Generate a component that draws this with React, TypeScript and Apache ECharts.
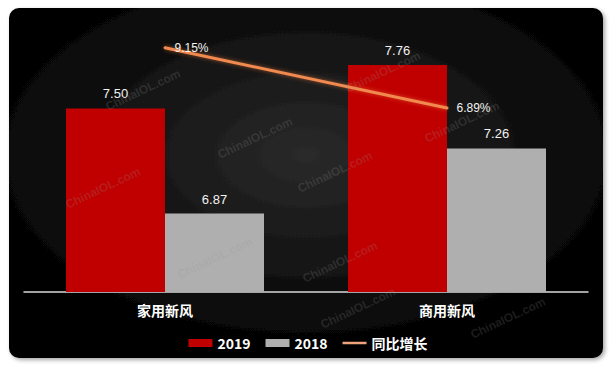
import React, { useEffect, useRef } from "react";
import * as echarts from "echarts";

const categories = ["家用新风", "商用新风"];
const values2019 = [7.5, 7.76];
const values2018 = [6.87, 7.26];
const growth = [9.15, 6.89];
const watermarkText = "ChinaIOL.com";
const watermarkSpots = [
  [143, 90], [255, 138], [335, 172], [383, 72], [462, 122],
  [340, 262], [358, 308], [508, 318], [103, 188], [215, 258],
];

export default function App() {
  const ref = useRef<HTMLDivElement>(null);
  useEffect(() => {
    if (!ref.current) return;
    const chart = echarts.init(ref.current, null, { renderer: "svg" });
    const font = "'Liberation Sans', Arial, sans-serif";
    const cjk = "'Noto Sans CJK SC', sans-serif";
    const watermarks = watermarkSpots.map(([x, y]) => ({
      type: "text",
      x,
      y,
      rotation: (25 * Math.PI) / 180,
      z: 100,
      silent: true,
      style: {
        text: watermarkText,
        fill: "rgba(150,150,150,0.2)",
        font: `bold 12px ${font}`,
        align: "center",
        verticalAlign: "middle",
      },
    }));
    chart.setOption({
      animation: false,
      backgroundColor: "#ffffff",
      graphic: [
        {
          type: "rect",
          z: -10,
          shape: { x: 9, y: 8, width: 594, height: 350, r: 10 },
          style: {
            fill: new echarts.graphic.RadialGradient(0.5, 0.42, 0.6, [
              { offset: 0, color: "#2a2a2a" },
              { offset: 1, color: "#000000" },
            ]),
            shadowBlur: 4,
            shadowColor: "rgba(0,0,0,0.35)",
            shadowOffsetX: 2,
            shadowOffsetY: 2,
          },
        },
        ...watermarks,
      ],
      grid: { left: 24, right: 28, top: 25, bottom: 74 },
      legend: {
        top: 331,
        left: "center",
        itemWidth: 24,
        itemHeight: 8,
        itemGap: 15,
        textStyle: { color: "#ffffff", fontSize: 14, fontWeight: "bold", fontFamily: cjk },
        data: [
          { name: "2019", icon: "rect" },
          { name: "2018", icon: "rect" },
          {
            name: "同比增长",
            icon: "path://M0,0L0.01,0L0.01,0.01L0,0.01Z M0,2.7L24,2.7L24,5.3L0,5.3Z M23.99,7.99L24,7.99L24,8L23.99,8Z",
            itemStyle: { color: "#f0a27a" },
          },
        ],
      },
      xAxis: {
        type: "category",
        data: categories,
        axisLine: { lineStyle: { color: "#d9d9d9", width: 1.5 } },
        axisTick: { show: false },
        axisLabel: { color: "#ffffff", fontSize: 14, fontWeight: "bold", fontFamily: cjk, margin: 11 },
      },
      yAxis: [
        { type: "value", min: 6.4, max: 8.0, show: false, splitLine: { show: false } },
        { type: "value", min: 0, max: 10, show: false, splitLine: { show: false } },
      ],
      series: [
        {
          name: "2019",
          type: "bar",
          data: values2019,
          barWidth: 99,
          barGap: "0%",
          itemStyle: { color: "#c00000" },
          label: {
            show: true,
            position: "top",
            distance: 8,
            color: "#f2f2f2",
            fontSize: 13,
            fontFamily: font,
            formatter: (p: any) => p.value.toFixed(2),
          },
        },
        {
          name: "2018",
          type: "bar",
          data: values2018,
          barWidth: 99,
          barGap: "0%",
          itemStyle: { color: "#afafaf" },
          label: {
            show: true,
            position: "top",
            distance: 8,
            color: "#f2f2f2",
            fontSize: 13,
            fontFamily: font,
            formatter: (p: any) => p.value.toFixed(2),
          },
        },
        {
          name: "同比增长",
          type: "line",
          yAxisIndex: 1,
          data: growth,
          symbol: "circle",
          symbolSize: 3,
          showSymbol: true,
          z: 5,
          lineStyle: {
            color: "#f08a50",
            width: 3,
            shadowBlur: 4,
            shadowColor: "rgba(240,120,60,0.6)",
          },
          itemStyle: { color: "#f08a50" },
          label: {
            show: true,
            position: "right",
            distance: 8,
            color: "#f2f2f2",
            fontSize: 12,
            fontFamily: font,
            formatter: (p: any) => p.value.toFixed(2) + "%",
          },
        },
      ],
    });
    return () => chart.dispose();
  }, []);
  return (
    <div
      ref={ref}
      style={{ position: "fixed", left: 0, top: 0, width: 616, height: 366 }}
    />
  );
}
